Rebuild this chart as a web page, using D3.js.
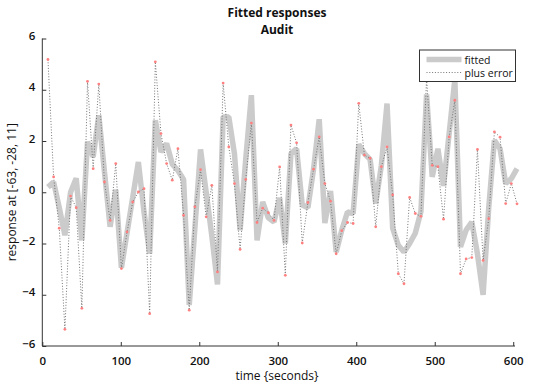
<!DOCTYPE html>
<html>
<head>
<meta charset="utf-8">
<script src="https://cdn.jsdelivr.net/npm/d3@7"></script>
<style>
  html, body { margin: 0; padding: 0; background: #fff; }
  svg { display: block; }
  text { font-family: "Open Sans", "DejaVu Sans", sans-serif; fill: #111; }
</style>
</head>
<body>
<svg id="chart" width="537" height="385"></svg>
<script>
// Scan times (seconds)
const times = [
  7.2, 14.4, 21.6, 28.8, 36.0, 43.2, 50.4, 57.6, 64.8, 72.0,
  79.2, 86.4, 93.6, 100.8, 108.0, 115.2, 122.4, 129.6, 136.8, 144.0,
  151.2, 158.4, 165.6, 172.8, 180.0, 187.2, 194.4, 201.6, 208.8, 216.0,
  223.2, 230.4, 237.6, 244.8, 252.0, 259.2, 266.4, 273.6, 280.8, 288.0,
  295.2, 302.4, 309.6, 316.8, 324.0, 331.2, 338.4, 345.6, 352.8, 360.0,
  367.2, 374.4, 381.6, 388.8, 396.0, 403.2, 410.4, 417.6, 424.8, 432.0,
  439.2, 446.4, 453.6, 460.8, 468.0, 475.2, 482.4, 489.6, 496.8, 504.0,
  511.2, 518.4, 525.6, 532.8, 540.0, 547.2, 554.4, 561.6, 568.8, 576.0,
  583.2, 590.4, 597.6, 604.8
];

// Fitted response at the voxel
const fitted = [
  0.2, 0.4, -0.6, -1.68, 0.0, 0.55, -1.88, 1.97, 1.38, 3.0,
  0.8, -1.35, 0.1, -2.95, -1.57, -0.2, 1.18, -0.77, -2.4, 2.81,
  1.57, 1.9, 1.1, 0.85, 0.5, -4.4, -1.4, 1.67, 0.0, -1.7,
  -3.6, 2.94, 2.94, 1.51, -1.48, 1.3, 3.79, -1.88, -0.38, -1.0,
  -1.16, -0.22, -2.0, 1.51, 1.7, -0.5, -0.6, 0.9, 2.85, -1.2,
  0.05, -2.33, -1.48, -0.77, -0.83, 1.87, 1.51, 1.28, -0.44, 1.05,
  3.46, -1.4, -2.07, -2.33, -2.0, -1.6, -0.75, 3.82, 0.6, 1.7,
  0.25, 2.3, 4.4, -2.13, -1.48, -1.16, -2.4, -4.0, -0.6, 2.03,
  1.7, 0.34, 0.53, 0.92
];

// Fitted response plus residual error
const plusError = [
  5.18, 0.6, -1.4, -5.35, -0.15, -0.6, -4.53, 4.33, 0.92, 4.22,
  0.4, -1.1, 1.12, -2.98, -1.55, -0.38, 0.01, 0.14, -4.74, 5.09,
  2.29, 1.12, 0.47, 1.7, -0.9, -4.6, -0.57, 0.88, -0.96, 0.27,
  -3.11, 4.26, 1.77, 0.34, -2.23, 0.5, 2.7, -1.18, -0.62, -0.8,
  -1.1, 0.99, -3.24, 2.62, 1.93, -1.98, -0.4, 0.9, 2.16, 0.34,
  -0.35, -2.4, -1.5, -1.18, -1.22, 3.47, 1.45, 1.33, -1.35, 1.0,
  1.77, -0.1, -3.18, -3.57, -0.2, -0.83, -0.94, 4.45, 1.05, 1.0,
  -1.05, 2.16, 3.59, -3.18, -2.6, -2.55, 1.67, -2.66, -1.03, 2.36,
  2.15, -0.44, 0.34, -0.45
];

const xTicks = [0, 100, 200, 300, 400, 500, 600];
const yTicks = [-6, -4, -2, 0, 2, 4, 6];

const svg = d3.select("#chart");

const x = d3.scaleLinear().domain([0, 604.8]).range([42.3, 517]);
const y = d3.scaleLinear().domain([-6, 6]).range([346, 38.5]);

const fittedPts = times.map((t, i) => [t, fitted[i]]);
const errPts = times.map((t, i) => [t, plusError[i]]);

const line = d3.line().x(d => x(d[0])).y(d => y(d[1]));

// fitted response: thick light-grey line
svg.append("path")
  .attr("d", line(fittedPts))
  .attr("fill", "none")
  .attr("stroke", "#cbcbcb")
  .attr("stroke-width", 5.5)
  .attr("stroke-linejoin", "bevel");

// fitted plus error: dotted line
svg.append("path")
  .attr("d", line(errPts))
  .attr("fill", "none")
  .attr("stroke", "#666")
  .attr("stroke-width", 0.9)
  .attr("stroke-dasharray", "1,1.8");

// sample markers
svg.append("g").selectAll("circle")
  .data(errPts)
  .join("circle")
  .attr("cx", d => x(d[0]))
  .attr("cy", d => y(d[1]))
  .attr("r", 1.4)
  .attr("fill", "#ff8080");

// axes
const axisColor = "#333";
const xAxis = svg.append("g")
  .attr("transform", `translate(0,${y(-6)})`)
  .call(d3.axisBottom(x).tickValues(xTicks).tickSize(-4).tickPadding(8)
    .tickFormat(d3.format("d")));
const yAxis = svg.append("g")
  .attr("transform", `translate(${x(0)},0)`)
  .call(d3.axisLeft(y).tickValues(yTicks).tickSize(-4).tickPadding(7)
    .tickFormat(d3.format("d")));

[xAxis, yAxis].forEach(g => {
  g.select(".domain").attr("stroke", axisColor).attr("stroke-width", 1);
  g.selectAll(".tick line").attr("stroke", axisColor);
  g.selectAll(".tick text")
    .attr("font-family", "Open Sans, DejaVu Sans, sans-serif")
    .attr("font-size", 11.5)
    .attr("font-weight", 600)
    .attr("fill", "#111");
});
xAxis.select(".domain").attr("d", `M${x(0)},0H${x(604.8) - 2}`);
yAxis.select(".domain").attr("d", `M0,${y(6)}V${y(-6)}`);
yAxis.selectAll(".tick text").attr("dy", "0.1em");
xAxis.selectAll(".tick text").attr("dy", "0.95em");

// titles
svg.append("text")
  .attr("x", 277).attr("y", 17)
  .attr("text-anchor", "middle")
  .attr("font-size", 12).attr("font-weight", "bold")
  .text("Fitted responses");
svg.append("text")
  .attr("x", 277).attr("y", 34)
  .attr("text-anchor", "middle")
  .attr("font-size", 12).attr("font-weight", "bold")
  .text("Audit");

svg.append("text")
  .attr("x", 277).attr("y", 380)
  .attr("text-anchor", "middle")
  .attr("font-size", 12)
  .text("time {seconds}");

svg.append("text")
  .attr("transform", `translate(16,${y(0)}) rotate(-90)`)
  .attr("text-anchor", "middle")
  .attr("font-size", 12)
  .text("response at [-63, -28, 11]");

// legend
const lg = svg.append("g").attr("transform", "translate(419.5,50)");
lg.append("rect")
  .attr("width", 96).attr("height", 31.5)
  .attr("fill", "#fff").attr("stroke", "#333").attr("stroke-width", 1);
lg.append("line")
  .attr("x1", 7).attr("x2", 42).attr("y1", 9.5).attr("y2", 9.5)
  .attr("stroke", "#cbcbcb").attr("stroke-width", 5.5);
lg.append("line")
  .attr("x1", 7).attr("x2", 42).attr("y1", 22.5).attr("y2", 22.5)
  .attr("stroke", "#666").attr("stroke-width", 0.9)
  .attr("stroke-dasharray", "1,1.8");
lg.append("text").attr("x", 45).attr("y", 13.5)
  .attr("font-size", 10.5).text("fitted");
lg.append("text").attr("x", 45).attr("y", 26.5)
  .attr("font-size", 10.5).text("plus error");
</script>
</body>
</html>
